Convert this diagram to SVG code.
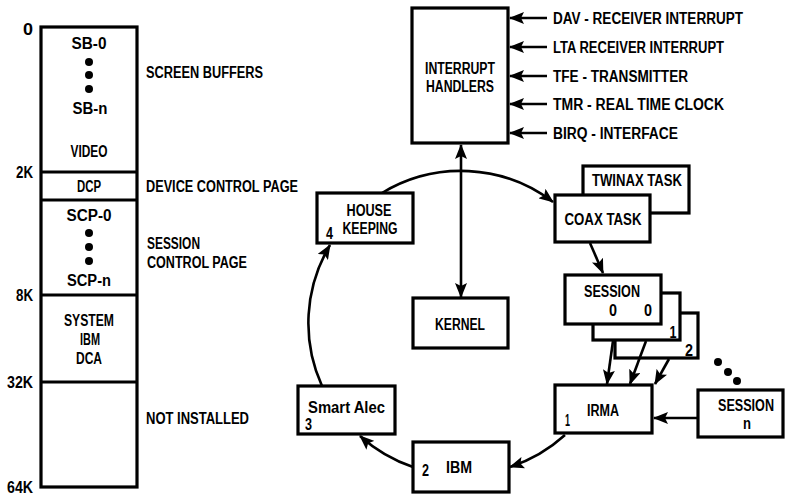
<svg xmlns="http://www.w3.org/2000/svg" width="788" height="495" viewBox="0 0 788 495">
<style>
text{font-family:"Liberation Sans",Arial,sans-serif;font-weight:bold;font-size:16px;fill:#000}
.m{text-anchor:middle}
.e{text-anchor:end}
.box{fill:#fff;stroke:#000;stroke-width:3.2}
.ln{fill:none;stroke:#000;stroke-width:2.6}
.div{stroke:#000;stroke-width:3}
.arr{marker-end:url(#ah)}
.dbl{marker-start:url(#ah);marker-end:url(#ah)}
</style>
<defs>
<marker id="ah" markerWidth="15" markerHeight="12" refX="14" refY="6" orient="auto-start-reverse" markerUnits="userSpaceOnUse">
<path d="M0,0 L15,6 L0,12 L3,6 z" fill="#000"/>
</marker>
</defs>
<rect width="788" height="495" fill="#fff"/>

<g id="memory-map">
<rect class="box" x="41" y="27" width="96" height="460"/>
<line class="div" x1="41" y1="172" x2="137" y2="172"/>
<line class="div" x1="41" y1="200" x2="137" y2="200"/>
<line class="div" x1="41" y1="295" x2="137" y2="295"/>
<line class="div" x1="41" y1="382" x2="137" y2="382"/>
<text class="m" x="89" y="49" textLength="35" lengthAdjust="spacingAndGlyphs">SB-0</text>
<circle cx="89" cy="62" r="4"/><circle cx="89" cy="75" r="4"/><circle cx="89" cy="89" r="4"/>
<text class="m" x="90" y="114" textLength="35" lengthAdjust="spacingAndGlyphs">SB-n</text>
<text class="m" x="89" y="157" textLength="37" lengthAdjust="spacingAndGlyphs">VIDEO</text>
<text class="m" x="89" y="192" textLength="24" lengthAdjust="spacingAndGlyphs">DCP</text>
<text class="m" x="89" y="221" textLength="45" lengthAdjust="spacingAndGlyphs">SCP-0</text>
<circle cx="89" cy="233" r="4"/><circle cx="89" cy="247" r="4"/><circle cx="89" cy="261" r="4"/>
<text class="m" x="89" y="286" textLength="44" lengthAdjust="spacingAndGlyphs">SCP-n</text>
<text class="m" x="89" y="326" textLength="50" lengthAdjust="spacingAndGlyphs">SYSTEM</text>
<text class="m" x="90" y="345" textLength="20" lengthAdjust="spacingAndGlyphs">IBM</text>
<text class="m" x="89" y="364" textLength="26" lengthAdjust="spacingAndGlyphs">DCA</text>
<text class="e" x="33" y="35" textLength="10" lengthAdjust="spacingAndGlyphs">0</text>
<text class="e" x="33" y="178" textLength="17" lengthAdjust="spacingAndGlyphs">2K</text>
<text class="e" x="33" y="301" textLength="17" lengthAdjust="spacingAndGlyphs">8K</text>
<text class="e" x="33" y="388" textLength="26" lengthAdjust="spacingAndGlyphs">32K</text>
<text class="e" x="33" y="493" textLength="26" lengthAdjust="spacingAndGlyphs">64K</text>
<text x="146" y="78" textLength="117" lengthAdjust="spacingAndGlyphs">SCREEN BUFFERS</text>
<text x="146" y="192" textLength="152" lengthAdjust="spacingAndGlyphs">DEVICE CONTROL PAGE</text>
<text x="147" y="249" textLength="53" lengthAdjust="spacingAndGlyphs">SESSION</text>
<text x="147" y="268" textLength="100" lengthAdjust="spacingAndGlyphs">CONTROL PAGE</text>
<text x="146" y="424" textLength="103" lengthAdjust="spacingAndGlyphs">NOT INSTALLED</text>
</g>

<g id="interrupt-handlers">
<rect class="box" x="412" y="8" width="96" height="135"/>
<text class="m" x="460" y="74" textLength="70" lengthAdjust="spacingAndGlyphs">INTERRUPT</text>
<text class="m" x="460" y="92" textLength="68" lengthAdjust="spacingAndGlyphs">HANDLERS</text>
</g>

<g id="interrupt-sources">
<text x="553" y="24" textLength="190" lengthAdjust="spacingAndGlyphs">DAV - RECEIVER INTERRUPT</text>
<text x="553" y="53" textLength="171" lengthAdjust="spacingAndGlyphs">LTA RECEIVER INTERRUPT</text>
<text x="553" y="82" textLength="135" lengthAdjust="spacingAndGlyphs">TFE - TRANSMITTER</text>
<text x="553" y="110" textLength="171" lengthAdjust="spacingAndGlyphs">TMR - REAL TIME CLOCK</text>
<text x="553" y="139" textLength="125" lengthAdjust="spacingAndGlyphs">BIRQ - INTERFACE</text>
</g>

<g id="kernel">
<rect class="box" x="413" y="298" width="95" height="50"/>
<text class="m" x="460" y="330" textLength="50" lengthAdjust="spacingAndGlyphs">KERNEL</text>
</g>

<g id="house-keeping">
<rect class="box" x="317" y="193" width="96" height="50"/>
<text class="m" x="369" y="216" textLength="45" lengthAdjust="spacingAndGlyphs">HOUSE</text>
<text class="m" x="370" y="234" textLength="55" lengthAdjust="spacingAndGlyphs">KEEPING</text>
<text x="326" y="239" textLength="7" lengthAdjust="spacingAndGlyphs">4</text>
</g>

<g id="twinax-task">
<rect class="box" x="583" y="166" width="106" height="47"/>
<text class="m" x="637" y="186" textLength="90" lengthAdjust="spacingAndGlyphs">TWINAX TASK</text>
</g>

<g id="coax-task">
<rect class="box" x="555" y="195" width="95" height="47"/>
<text class="m" x="603" y="225" textLength="77" lengthAdjust="spacingAndGlyphs">COAX TASK</text>
</g>

<g id="session-2">
<rect class="box" x="615" y="313" width="83" height="45"/>
<text class="m" x="689" y="356" textLength="8" lengthAdjust="spacingAndGlyphs">2</text>
</g>

<g id="session-1">
<rect class="box" x="593" y="293" width="87" height="47"/>
<text class="m" x="673" y="338" textLength="7" lengthAdjust="spacingAndGlyphs">1</text>
</g>

<g id="session-0">
<rect class="box" x="565" y="275" width="96" height="49"/>
<text class="m" x="612" y="297" textLength="56" lengthAdjust="spacingAndGlyphs">SESSION</text>
<text class="m" x="613" y="316" textLength="8" lengthAdjust="spacingAndGlyphs">0</text>
<text class="m" x="648" y="316" textLength="8" lengthAdjust="spacingAndGlyphs">0</text>
</g>

<g id="session-n">
<rect class="box" x="698" y="390" width="85" height="47"/>
<text class="m" x="746" y="411" textLength="56" lengthAdjust="spacingAndGlyphs">SESSION</text>
<text class="m" x="747" y="429" textLength="8" lengthAdjust="spacingAndGlyphs">n</text>
</g>

<g id="ellipsis">
<circle cx="718" cy="362" r="4"/><circle cx="728" cy="372" r="4"/><circle cx="737" cy="381" r="4"/>
</g>

<g id="irma">
<rect class="box" x="555" y="385" width="97" height="48"/>
<text class="m" x="603" y="416" textLength="32" lengthAdjust="spacingAndGlyphs">IRMA</text>
<text x="565" y="426" textLength="5" lengthAdjust="spacingAndGlyphs">1</text>
</g>

<g id="ibm">
<rect class="box" x="413" y="442" width="96" height="50"/>
<text class="m" x="459" y="473" textLength="26" lengthAdjust="spacingAndGlyphs">IBM</text>
<text x="422" y="476" textLength="7" lengthAdjust="spacingAndGlyphs">2</text>
</g>

<g id="smart-alec">
<rect class="box" x="298" y="386" width="97" height="48"/>
<text x="308" y="413" textLength="77" lengthAdjust="spacingAndGlyphs">Smart Alec</text>
<text x="305" y="430" textLength="7" lengthAdjust="spacingAndGlyphs">3</text>
</g>

<g id="connectors">
<line class="ln arr" x1="547" y1="18" x2="510" y2="18"/>
<line class="ln arr" x1="547" y1="47" x2="510" y2="47"/>
<line class="ln arr" x1="547" y1="76" x2="510" y2="76"/>
<line class="ln arr" x1="547" y1="104" x2="510" y2="104"/>
<line class="ln arr" x1="547" y1="133" x2="510" y2="133"/>
<line class="ln dbl" x1="461" y1="145" x2="461" y2="297"/>
<path class="ln arr" d="M382,193 A152,152 0 0 1 553,202"/>
<path class="ln arr" d="M322,386 A152,152 0 0 1 330,245"/>
<path class="ln arr" d="M413,467 A152,152 0 0 1 360,436"/>
<path class="ln arr" d="M565,435 A152,152 0 0 1 510,467"/>
<line class="ln arr" x1="590" y1="243" x2="603" y2="273"/>
<line class="ln arr" x1="613" y1="341" x2="607" y2="384"/>
<line class="ln arr" x1="646" y1="341" x2="630" y2="384"/>
<line class="ln arr" x1="669" y1="359" x2="655" y2="384"/>
<line class="ln arr" x1="697" y1="418" x2="654" y2="418"/>
</g>
</svg>
